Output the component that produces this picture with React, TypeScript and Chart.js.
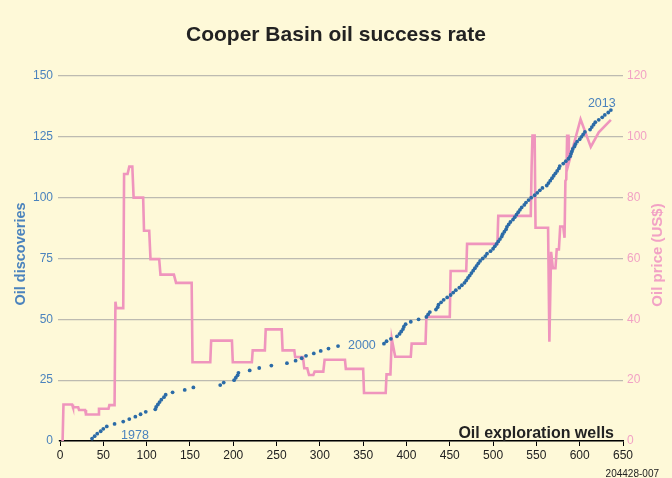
import { useEffect, useRef } from "react";
import { Chart, registerables } from "chart.js";

Chart.register(...registerables);

const FONT = '"Liberation Sans", Arial, Helvetica, sans-serif';

const chartTitle = "Cooper Basin oil success rate";
const xAxisTitle = "Oil exploration wells";
const leftAxisTitle = "Oil discoveries";
const rightAxisTitle = "Oil price (US$)";
const sourceCode = "204428-007";

// axis ranges
const wellsMin = 0;
const wellsMax = 650;
const wellsStep = 50;
const discMin = 0;
const discMax = 150;
const discStep = 25;
const priceMin = 0;
const priceMax = 120;
const priceStep = 20;

// cumulative oil discoveries: well number at which each discovery was made
const discoveryWells = [
  37, 40, 43, 47, 50, 54, 63, 73, 80, 87, 93, 99, 110, 111, 113, 115, 117, 120, 122, 130,
  144, 154, 185, 189, 201, 203, 205, 206, 219, 230, 244, 262, 272, 279, 284, 293, 301, 310, 321, 374,
  377, 382, 389, 392, 394, 396, 397, 399, 405, 414, 423, 425, 427, 434, 436, 437, 440, 443, 447, 451,
  454, 457, 461, 464, 467, 469, 471, 473, 475, 477, 479, 481, 483, 485, 488, 491, 493, 497, 500, 502,
  504, 506, 508, 510, 511, 513, 515, 516, 518, 520, 523, 525, 527, 529, 531, 533, 536, 538, 541, 544,
  548, 551, 554, 557, 562, 564, 566, 568, 570, 572, 574, 576, 577, 581, 584, 587, 589, 590, 591, 592,
  594, 595, 597, 600, 602, 604, 606, 612, 614, 616, 618, 622, 626, 629, 633, 636,
];
const discoveryCounts = [
  1, 2, 3, 4, 5, 6, 7, 8, 9, 10, 11, 12, 13, 14, 15, 16, 17, 18, 19, 20,
  21, 22, 23, 24, 25, 26, 27, 28, 29, 30, 31, 32, 33, 34, 35, 36, 37, 38, 39, 40,
  41, 42, 43, 44, 45, 46, 47, 48, 49, 50, 51, 52, 53, 54, 55, 56, 57, 58, 59, 60,
  61, 62, 63, 64, 65, 66, 67, 68, 69, 70, 71, 72, 73, 74, 75, 76, 77, 78, 79, 80,
  81, 82, 83, 84, 85, 86, 87, 88, 89, 90, 91, 92, 93, 94, 95, 96, 97, 98, 99, 100,
  101, 102, 103, 104, 105, 106, 107, 108, 109, 110, 111, 112, 113, 114, 115, 116, 117, 118, 119, 120,
  121, 122, 123, 124, 125, 126, 127, 128, 129, 130, 131, 132, 133, 134, 135, 136,
];

// oil price (US$) against well number
const priceWells = [
  3, 4, 14, 15, 21, 22, 29, 30, 44, 45, 56, 57, 63, 64, 65, 73, 74, 78, 80, 83.5,
  85, 96, 97, 103, 104.5, 114.5, 116, 131.5, 134, 152, 153, 173.5, 174.5, 198.5, 199.5, 221.5, 222.5, 236.5, 237.5, 256,
  257, 270.5, 271.5, 280.5, 282, 285.5, 287.5, 292.5, 294, 304, 305.5, 329, 330, 350, 351, 376, 377, 381.5, 383, 387,
  405, 406, 422, 423, 450, 451, 469, 470, 505, 506, 543.5, 544.5, 545.5, 548, 549, 563.5, 565, 567, 569, 572,
  573.5, 576, 577.5, 581, 582.5, 583.5, 584.5, 585.5, 587, 587.5, 601, 612.8, 622, 636,
];
const priceValues = [
  0, 12, 12, 11.1, 11.1, 10.2, 10.2, 8.7, 8.7, 10.6, 10.6, 11.8, 11.8, 45.8, 43.7, 43.7, 87.8, 87.8, 90.2, 90.2,
  80, 80, 69.1, 69.1, 59.8, 59.8, 54.7, 54.7, 52, 52, 25.9, 25.9, 33, 33, 25.9, 25.9, 29.8, 29.8, 36.7, 36.7,
  29.8, 29.8, 27.6, 27.6, 23.9, 23.9, 21.7, 21.7, 22.8, 22.8, 26.7, 26.7, 23.7, 23.7, 15.8, 15.8, 21.9, 21.9, 33.6, 27.7,
  27.7, 32, 32, 40.8, 40.8, 55.9, 55.9, 64.8, 64.8, 74, 74, 90.3, 100.4, 100.4, 70.1, 70.1, 32.6, 62.2, 56.8, 56.8,
  63, 63, 70.5, 70.5, 66.8, 85.5, 86, 100.3, 100.3, 91.5, 105.8, 96.7, 101.5, 105.6,
];

// year annotations, anchored in data coordinates (well, discoveries)
const yearLabels = ["1978", "2000", "2013"];
const yearWells = [70.5, 332.5, 609.5];
const yearDiscoveries = [0.8, 37.8, 137.3];

const BG = "#fef9d8";
const BLUE_DOT = "#2b6ba7";
const BLUE_TEXT = "#4b83bd";
const PINK = "#ef95bd";
const PINK_TEXT = "#f2a2c5";
const GRID = "#bdbbb1";
const DARK = "#222222";

const decorPlugin = {
  id: "decor",
  beforeDraw(chart: any) {
    const ctx = chart.ctx;
    ctx.save();
    ctx.fillStyle = BG;
    ctx.fillRect(0, 0, chart.width, chart.height);
    ctx.restore();
  },
  afterDraw(chart: any) {
    const ctx = chart.ctx;
    const area = chart.chartArea;
    const xs = chart.scales.x;
    const ys = chart.scales.y;
    ctx.save();
    // title
    ctx.fillStyle = DARK;
    ctx.font = `bold 21px ${FONT}`;
    ctx.textAlign = "center";
    ctx.textBaseline = "alphabetic";
    ctx.fillText(chartTitle, chart.width / 2, 41);

    // x axis title inside plot
    ctx.font = `bold 16px ${FONT}`;
    ctx.textAlign = "right";
    ctx.fillText(xAxisTitle, area.right - 9, area.bottom - 3);

    // source code
    ctx.font = `10px ${FONT}`;
    ctx.textAlign = "right";
    ctx.fillText(sourceCode, 659, 477);

    // left axis title
    ctx.save();
    ctx.translate(25, 254);
    ctx.rotate(-Math.PI / 2);
    ctx.font = `bold 14.5px ${FONT}`;
    ctx.fillStyle = BLUE_TEXT;
    ctx.textAlign = "center";
    ctx.fillText(leftAxisTitle, 0, 0);
    ctx.restore();

    // right axis title
    ctx.save();
    ctx.translate(662, 255);
    ctx.rotate(-Math.PI / 2);
    ctx.font = `bold 15px ${FONT}`;
    ctx.fillStyle = PINK_TEXT;
    ctx.textAlign = "center";
    ctx.fillText(rightAxisTitle, 0, 0);
    ctx.restore();

    // year labels
    ctx.font = `12.5px ${FONT}`;
    ctx.fillStyle = BLUE_TEXT;
    ctx.textAlign = "left";
    yearLabels.forEach((t, i) => {
      ctx.fillText(t, xs.getPixelForValue(yearWells[i]), ys.getPixelForValue(yearDiscoveries[i]));
    });
    ctx.restore();
  },
};

export default function App() {
  const ref = useRef<HTMLCanvasElement | null>(null);

  useEffect(() => {
    if (!ref.current) return;
    const chart = new Chart(ref.current, {
      type: "scatter",
      data: {
        datasets: [
          {
            label: "Oil discoveries",
            data: discoveryWells.map((w, i) => ({ x: w, y: discoveryCounts[i] })),
            yAxisID: "y",
            backgroundColor: BLUE_DOT,
            borderColor: BLUE_DOT,
            pointRadius: 1.9,
            pointBorderWidth: 0,
            showLine: false,
          },
          {
            label: "Oil price",
            data: priceWells.map((w, i) => ({ x: w, y: priceValues[i] })),
            yAxisID: "y2",
            borderColor: PINK,
            backgroundColor: PINK,
            borderWidth: 2.6,
            pointRadius: 0,
            showLine: true,
            tension: 0,
            borderJoinStyle: "miter",
          } as any,
        ],
      },
      options: {
        animation: false,
        responsive: false,
        devicePixelRatio: 1,
        layout: { padding: { top: 76, left: 0, right: 0, bottom: 0 } },
        plugins: {
          legend: { display: false },
          tooltip: { enabled: false },
          title: { display: false },
        },
        scales: {
          x: {
            type: "linear",
            min: wellsMin,
            max: wellsMax,
            afterFit: (s: any) => {
              s.height = 37;
            },
            ticks: {
              stepSize: wellsStep,
              color: DARK,
              font: { family: FONT, size: 12 },
              padding: 2,
              maxRotation: 0,
            },
            grid: {
              drawOnChartArea: false,
              drawTicks: true,
              tickLength: 5,
              color: "#000",
              lineWidth: 1,
            },
            border: { display: true, color: "#000", width: 1.5 },
          },
          y: {
            type: "linear",
            position: "left",
            min: discMin,
            max: discMax,
            afterFit: (s: any) => {
              s.width = 60;
            },
            ticks: {
              stepSize: discStep,
              color: BLUE_TEXT,
              font: { family: FONT, size: 12 },
              padding: 5,
            },
            grid: {
              color: GRID,
              lineWidth: 1.2,
              drawTicks: true,
              tickLength: 2,
            },
            border: { display: false },
          },
          y2: {
            type: "linear",
            position: "right",
            min: priceMin,
            max: priceMax,
            afterFit: (s: any) => {
              s.width = 49;
            },
            ticks: {
              stepSize: priceStep,
              color: PINK_TEXT,
              font: { family: FONT, size: 12 },
              padding: 4,
            },
            grid: { display: false, drawOnChartArea: false, drawTicks: false },
            border: { display: false },
          },
        },
      },
      plugins: [decorPlugin],
    } as any);
    return () => chart.destroy();
  }, []);

  return (
    <div style={{ position: "fixed", left: 0, top: 0, width: 672, height: 478, background: BG }}>
      <canvas ref={ref} width={672} height={478} style={{ display: "block", width: 672, height: 478 }} />
    </div>
  );
}
